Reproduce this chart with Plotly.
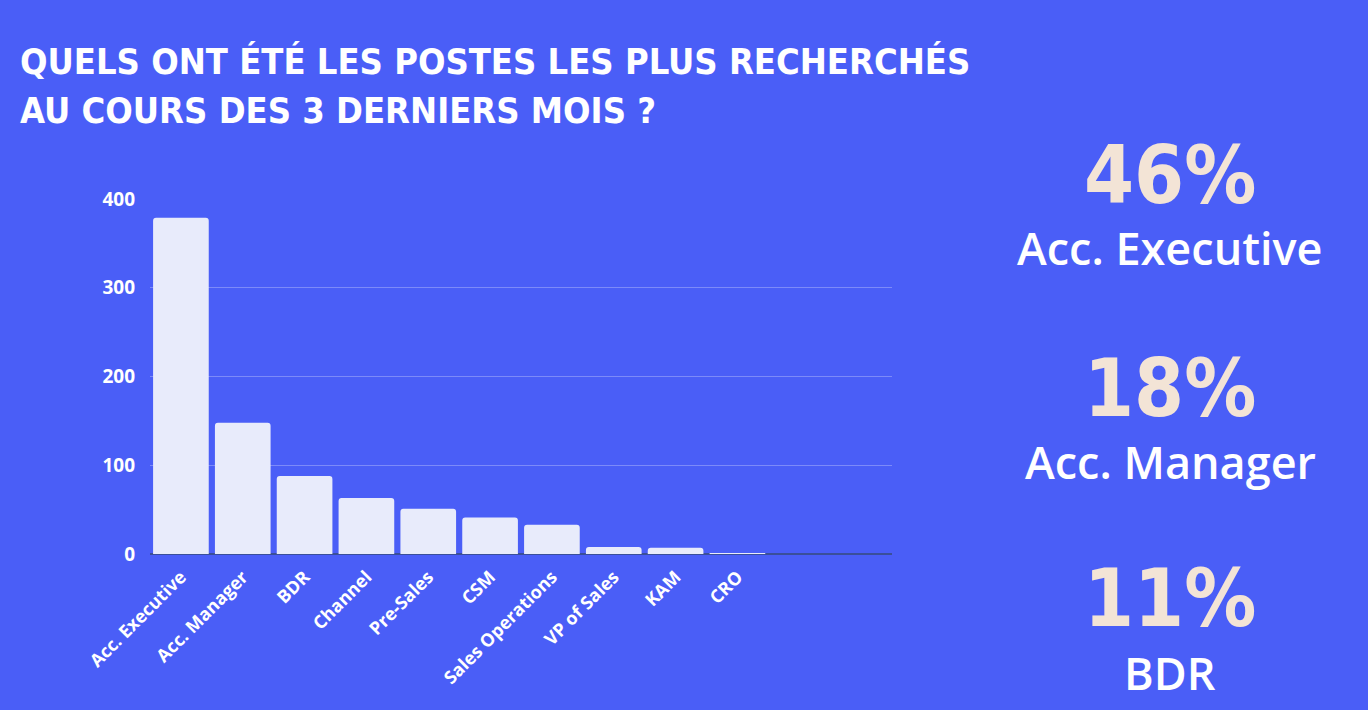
import plotly.graph_objects as go

categories = ["Acc. Executive", "Acc. Manager", "BDR", "Channel", "Pre-Sales", "CSM",
              "Sales Operations", "VP of Sales", "KAM", "CRO", " ", "  "]
values = [379, 148, 88, 63, 51, 41, 33, 8, 7, 1, 0, 0]

y_ticks = [0, 100, 200, 300, 400]

highlight_pct = ["46%", "18%", "11%"]
highlight_lbl = ["Acc. Executive", "Acc. Manager", "BDR"]

title_lines = ["QUELS ONT ÉTÉ LES POSTES LES PLUS RECHERCHÉS", "AU COURS DES 3 DERNIERS MOIS ?"]

W, H = 1368, 710
BG = "#4A5EF7"
BAR = "#E8EBFB"

fig = go.Figure()
fig.add_trace(go.Bar(
    x=categories, y=values,
    marker=dict(color=BAR, line=dict(width=0), cornerradius=3),
    hoverinfo="x+y",
))

tick_font = dict(size=18, family="'Open Sans', sans-serif", color="white", weight="bold")

fig.update_layout(
    width=W, height=H,
    paper_bgcolor=BG, plot_bgcolor=BG,
    margin=dict(l=0, r=0, t=0, b=0),
    showlegend=False,
    bargap=0.1,
    font=dict(family="'Open Sans', sans-serif", color="white"),
    xaxis=dict(
        domain=[150 / W, 892 / W],
        type="category",
        tickangle=-45,
        tickfont=tick_font,
        showgrid=False, showline=False, ticks="",
        ticklabelstandoff=8,
        automargin=False,
    ),
    yaxis=dict(
        domain=[(H - 554) / H, (H - 199) / H],
        range=[0, 400],
        tickvals=y_ticks,
        tickfont=dict(size=19, family="'Open Sans', sans-serif", color="white", weight="bold"),
        showgrid=True, gridcolor="rgba(255,255,255,0.28)", gridwidth=1,
        zeroline=True, zerolinecolor="#3A4F9A", zerolinewidth=2,
        showline=False, ticks="", ticklabelstandoff=14,
        automargin=False,
    ),
)

title_font = dict(family="'DejaVu Sans Condensed', 'Liberation Sans Narrow', sans-serif",
                  size=36, color="white", weight="bold")
for i, line in enumerate(title_lines):
    fig.add_annotation(text=line, xref="paper", yref="paper",
                       x=18 / W, y=1 - (62 + 48 * i) / H, xanchor="left", yanchor="middle",
                       showarrow=False, font=title_font)

pct_y = [175, 388, 598]
lbl_y = [248, 461, 672]
for p, l, py, ly in zip(highlight_pct, highlight_lbl, pct_y, lbl_y):
    fig.add_annotation(text=p, xref="paper", yref="paper", x=1170 / W, y=1 - py / H,
                       xanchor="center", yanchor="middle", showarrow=False,
                       font=dict(family="'DejaVu Sans Condensed', sans-serif",
                                 size=80, color="#F3E4D6", weight="bold"))
    fig.add_annotation(text=l, xref="paper", yref="paper", x=1170 / W, y=1 - ly / H,
                       xanchor="center", yanchor="middle", showarrow=False,
                       font=dict(family="'Open Sans', sans-serif", size=45, color="white", weight=600))

fig.write_html("out.html")
